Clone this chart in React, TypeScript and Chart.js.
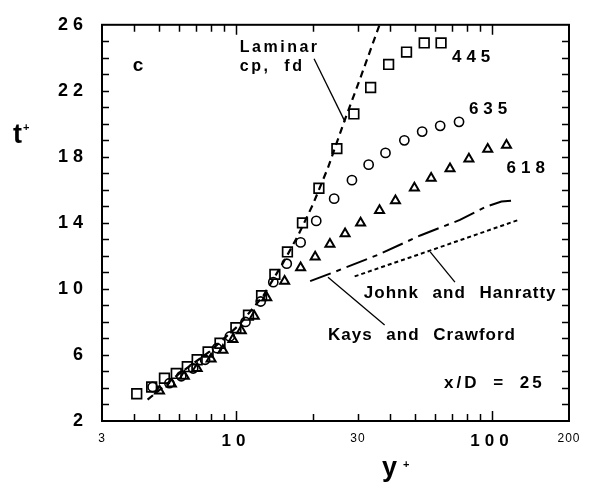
import { useEffect, useRef } from "react";
import { Chart, registerables } from "chart.js";

Chart.register(...registerables);

// Run 445 (squares)
const yPlus445 = [4.1, 4.69, 5.26, 5.85, 6.46, 7.06, 7.79, 8.67, 10.0, 11.2, 12.6, 14.2, 15.9, 18.2, 21.1, 24.8, 28.9, 33.6, 39.5, 46.4, 54.4, 63.3];
const tPlus445 = [3.65, 4.06, 4.59, 4.88, 5.29, 5.71, 6.18, 6.71, 7.65, 8.41, 9.59, 10.88, 12.24, 14.0, 16.1, 18.5, 20.6, 22.2, 23.6, 24.35, 24.9, 24.9];

// Run 635 (circles)
const yPlus635 = [4.73, 5.5, 6.12, 6.81, 7.58, 8.44, 9.47, 10.9, 12.5, 14.0, 15.8, 17.9, 20.6, 24.2, 28.4, 33.0, 38.4, 45.5, 53.4, 62.8, 74.4];
const tPlus635 = [4.06, 4.29, 4.71, 5.18, 5.71, 6.41, 7.12, 8.0, 9.24, 10.41, 11.53, 12.82, 14.12, 15.47, 16.59, 17.53, 18.24, 19.0, 19.53, 19.88, 20.12];

// Run 618 (triangles)
const yPlus618 = [5.03, 5.6, 6.29, 7.06, 8.0, 8.9, 9.74, 10.5, 11.8, 13.2, 15.5, 17.9, 20.4, 23.3, 26.7, 30.7, 36.4, 42.0, 49.8, 57.9, 68.6, 81.3, 96.3, 114];
const tPlus618 = [3.82, 4.24, 4.71, 5.18, 5.76, 6.29, 6.94, 7.47, 8.35, 9.47, 10.47, 11.29, 11.94, 12.71, 13.35, 14.0, 14.76, 15.35, 16.12, 16.71, 17.29, 17.88, 18.47, 18.71];

// Laminar, constant property, fully developed
const yPlusLaminar = [4.52, 6.02, 7.86, 10.3, 12.8, 15.3, 17.5, 20.0, 22.9, 26.7, 30.7, 36.4];
const tPlusLaminar = [3.29, 4.88, 6.18, 7.82, 9.59, 11.59, 13.24, 15.12, 17.35, 20.29, 22.82, 26.0];

// Kays and Crawford
const yPlusKays = [19.5, 24.0, 35.8, 52.5, 75.0, 95.4, 109, 122];
const tPlusKays = [10.47, 11.0, 12.06, 13.24, 14.18, 15.0, 15.29, 15.35];

// Johnk and Hanratty
const yPlusJohnk = [29.1, 61.1, 127];
const tPlusJohnk = [10.76, 12.47, 14.18];

// Axes
const xTickValues = [3, 4, 5, 6, 7, 8, 9, 10, 20, 30, 40, 50, 60, 70, 80, 90, 100, 200];
const xLabeled = [3, 10, 30, 100, 200];
const xBigLabels = [10, 100];
const yMinorTicks = [3, 4, 5, 6, 7, 8, 9, 10, 11, 12, 13, 14, 15, 16, 17, 18, 19, 20, 21, 22, 23, 24, 25];

const FONT = "'Liberation Sans', Arial, Helvetica, sans-serif";

const pts = (xs: number[], ys: number[]) => xs.map((x, i) => ({ x, y: ys[i] }));

const frameAndNotes = {
  id: "frameAndNotes",
  beforeDraw(chart: any) {
    const ctx = chart.ctx as any;
    const base = CanvasRenderingContext2D.prototype.fillText;
    ctx.fillText = function (text: string, x: number, y: number, w?: number) {
      this.letterSpacing = /bold/.test(this.font) ? "5px" : "1px";
      if (w === undefined) base.call(this, text, x, y);
      else base.call(this, text, x, y, w);
      this.letterSpacing = "0px";
    };
  },
  beforeDatasetsDraw(chart: any) {
    const ctx = chart.ctx as any;
    delete ctx.fillText;
    const { left, right, top, bottom } = chart.chartArea;
    const xs = chart.scales.x;
    const ys = chart.scales.y;
    ctx.save();
    ctx.strokeStyle = "#000";
    ctx.lineWidth = 2;
    ctx.strokeRect(left, top, right - left, bottom - top);
    ctx.lineWidth = 1.5;
    ctx.beginPath();
    xTickValues.forEach((v) => {
      if (v === 3 || v === 200) return;
      const px = Math.round(xs.getPixelForValue(v)) + 0.5;
      const len = xBigLabels.includes(v) ? 10 : 7;
      ctx.moveTo(px, bottom);
      ctx.lineTo(px, bottom - len);
      ctx.moveTo(px, top);
      ctx.lineTo(px, top + len);
    });
    yMinorTicks.forEach((v) => {
      const py = Math.round(ys.getPixelForValue(v)) + 0.5;
      ctx.moveTo(left, py);
      ctx.lineTo(left + 7, py);
      ctx.moveTo(right, py);
      ctx.lineTo(right - 7, py);
    });
    ctx.stroke();
    ctx.restore();
  },
  afterDraw(chart: any) {
    const ctx = chart.ctx as any;
    const xs = chart.scales.x;
    const ys = chart.scales.y;
    const { left, bottom } = chart.chartArea;
    const X = (v: number) => xs.getPixelForValue(v);
    const Y = (v: number) => ys.getPixelForValue(v);

    ctx.save();
    ctx.fillStyle = "#000";
    ctx.strokeStyle = "#000";
    ctx.textBaseline = "middle";
    ctx.textAlign = "left";

    const note = (text: string, xv: number, yv: number, size: number, spacing: number, wordSpacing = 0) => {
      ctx.font = `bold ${size}px ${FONT}`;
      ctx.letterSpacing = `${spacing}px`;
      ctx.wordSpacing = `${wordSpacing}px`;
      ctx.fillText(text, X(xv), Y(yv));
      ctx.letterSpacing = "0px";
      ctx.wordSpacing = "0px";
    };

    note("c", 3.96, 23.53, 19, 0);
    note("Laminar", 10.36, 24.59, 16, 2.5);
    note("cp,  fd", 10.36, 23.47, 16, 2.5);
    note("445", 69.8, 24.06, 17, 5);
    note("635", 81.3, 20.88, 17, 5);
    note("618", 114, 17.29, 17, 5);
    note("Johnk and Hanratty", 31.6, 9.71, 17, 1, 8);
    note("Kays and Crawford", 22.9, 7.18, 17, 1, 8);
    note("x/D = 25", 65.0, 4.29, 17, 3, 6);

    // leader lines
    ctx.lineWidth = 1.3;
    const leader = (x1: number, y1: number, x2: number, y2: number) => {
      ctx.beginPath();
      ctx.moveTo(X(x1), Y(y1));
      ctx.lineTo(X(x2), Y(y2));
      ctx.stroke();
    };
    leader(20.2, 23.94, 26.7, 20.12);
    leader(22.9, 10.71, 38.1, 7.82);
    leader(57.4, 12.24, 71.7, 10.41);

    // axis titles
    ctx.textBaseline = "alphabetic";
    ctx.font = `bold 27px ${FONT}`;
    ctx.fillText("t", left - 89, 143);
    ctx.fillText("y", 382, bottom + 55);
    ctx.font = `bold 11px ${FONT}`;
    ctx.fillText("+", left - 79, 131);
    ctx.fillText("+", 403, bottom + 47);
    ctx.restore();
  },
};

export default function App() {
  const canvasRef = useRef<HTMLCanvasElement | null>(null);

  useEffect(() => {
    const canvas = canvasRef.current;
    if (!canvas) return;
    const lineBase = {
      showLine: true,
      pointRadius: 0,
      borderColor: "#000",
      borderWidth: 2,
      tension: 0,
      fill: false,
    };
    const markerBase = {
      showLine: false,
      borderColor: "#000",
      backgroundColor: "rgba(255,255,255,0)",
    };
    const chart = new Chart(canvas, {
      type: "scatter",
      data: {
        datasets: [
          { ...lineBase, label: "Laminar cp, fd", data: pts(yPlusLaminar, tPlusLaminar), borderDash: [7, 5], borderWidth: 2.2 },
          { ...lineBase, label: "Kays and Crawford", data: pts(yPlusKays, tPlusKays), borderDash: [22, 6, 5, 6] },
          { ...lineBase, label: "Johnk and Hanratty", data: pts(yPlusJohnk, tPlusJohnk), borderDash: [4, 3] },
          { ...markerBase, label: "445", data: pts(yPlus445, tPlus445), pointStyle: "rect", pointRadius: 6.8, borderWidth: 1.7 },
          { ...markerBase, label: "635", data: pts(yPlus635, tPlus635), pointStyle: "circle", pointRadius: 4.6, borderWidth: 1.6 },
          { ...markerBase, label: "618", data: pts(yPlus618, tPlus618), pointStyle: "triangle", pointRadius: 5.2, borderWidth: 2 },
        ],
      },
      options: {
        responsive: false,
        animation: false,
        devicePixelRatio: 1,
        layout: { padding: { top: 13, right: 16, left: 0, bottom: 0 } },
        plugins: { legend: { display: false }, tooltip: { enabled: false } },
        scales: {
          x: {
            type: "logarithmic",
            min: 3,
            max: 200,
            afterBuildTicks: (scale: any) => {
              scale.ticks = xTickValues.map((value) => ({ value }));
            },
            afterFit: (scale: any) => {
              scale.height = 70;
            },
            grid: { display: false, drawTicks: false },
            border: { display: false },
            ticks: {
              autoSkip: false,
              maxRotation: 0,
              padding: 10,
              color: "#000",
              callback: (v: any) => (xLabeled.includes(Number(v)) ? String(v) : ""),
              font: (c: any) =>
                c.tick && xBigLabels.includes(c.tick.value)
                  ? { family: FONT, size: 17, weight: "bold" }
                  : { family: FONT, size: 12, weight: "normal" },
            },
          },
          y: {
            type: "linear",
            min: 2,
            max: 26,
            afterFit: (scale: any) => {
              scale.width = 102;
            },
            grid: { display: false, drawTicks: false },
            border: { display: false },
            ticks: {
              stepSize: 4,
              padding: 14,
              color: "#000",
              font: { family: FONT, size: 18, weight: "bold" },
            },
          },
        },
      },
      plugins: [frameAndNotes],
    } as any);
    return () => chart.destroy();
  }, []);

  return (
    <div style={{ position: "absolute", left: 0, top: 0, width: 589, height: 491, background: "#fff" }}>
      <canvas ref={canvasRef} width={589} height={491} />
    </div>
  );
}
